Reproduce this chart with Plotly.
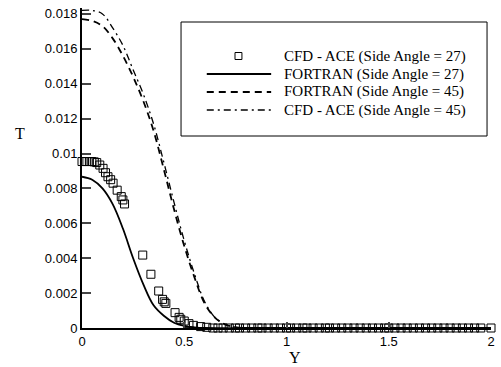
import plotly.graph_objects as go

# ---- data ----
cfd27_y = [0, 0.012, 0.024, 0.036, 0.048, 0.06, 0.072, 0.087, 0.103, 0.115, 0.127, 0.14,
           0.152, 0.172, 0.192, 0.2, 0.208, 0.297, 0.337, 0.375, 0.394, 0.402, 0.41, 0.455,
           0.475, 0.483, 0.5, 0.523, 0.545, 0.58, 0.61, 0.64, 0.665, 0.69, 0.72, 0.75, 0.77,
           0.8, 0.83, 0.86, 0.88, 0.91, 0.94, 0.97, 1.0, 1.02, 1.05, 1.08, 1.1, 1.13, 1.16,
           1.19, 1.21, 1.24, 1.27, 1.3, 1.33, 1.36, 1.39, 1.42, 1.45, 1.48, 1.5, 1.53, 1.56,
           1.59, 1.62, 1.65, 1.68, 1.71, 1.74, 1.77, 1.8, 1.83, 1.86, 1.89, 1.92, 1.95, 2.0]
cfd27_t = [0.00954, 0.00954, 0.00954, 0.00954, 0.00954, 0.00952, 0.00948, 0.00934, 0.00915,
           0.0089, 0.00867, 0.0085, 0.0083, 0.0079, 0.00753, 0.00734, 0.00711, 0.00418,
           0.00308, 0.00212, 0.00164, 0.0015, 0.00141, 0.00088, 0.00061, 0.0005, 0.0004,
           0.00025, 0.00015, 0.00008, 0.00004, 0, 0, 0, 0, 0, 0, 0, 0, 0, 0, 0, 0, 0, 0, 0,
           0, 0, 0, 0, 0, 0, 0, 0, 0, 0, 0, 0, 0, 0, 0, 0, 0, 0, 0, 0, 0, 0, 0, 0, 0, 0, 0,
           0, 0, 0, 0, 0, 0]

fortran27_y = [0, 0.05, 0.1, 0.15, 0.2, 0.25, 0.3, 0.35, 0.4, 0.45, 0.5, 0.55, 0.6, 0.8, 1.0, 1.5, 2.0]
fortran27_t = [0.00867, 0.0085, 0.0080, 0.0071, 0.0057, 0.0040, 0.0025, 0.0013, 0.0007,
               0.0003, 0.00012, 0.00004, 0, 0, 0, 0, 0]

curve45_y = [0, 0.05, 0.1, 0.15, 0.2, 0.25, 0.3, 0.35, 0.4, 0.45, 0.5, 0.55, 0.6, 0.65,
             0.7, 0.75, 0.8, 1.0, 1.5, 2.0]
fortran45_t = [0.0177, 0.0176, 0.0173, 0.0166, 0.0156, 0.0144, 0.0130, 0.0113, 0.0091,
               0.0068, 0.0047, 0.0029, 0.0014, 0.0006, 0.0002, 0.00005, 0, 0, 0, 0]
cfd45_t = [0.0182, 0.0182, 0.0180, 0.0172, 0.0162, 0.0148, 0.0134, 0.0117, 0.0095,
           0.0072, 0.0050, 0.0031, 0.0015, 0.0006, 0.0002, 0.00005, 0, 0, 0, 0]

x_ticks = [0, 0.5, 1, 1.5, 2]
x_labels = ["0", "0.5", "1", "1.5", "2"]
y_ticks = [0, 0.002, 0.004, 0.006, 0.008, 0.01, 0.012, 0.014, 0.016, 0.018]
y_labels = ["0", "0.002", "0.004", "0.006", "0.008", "0.01", "0.012", "0.014", "0.016", "0.018"]

legend_names = ["CFD - ACE (Side Angle = 27)", "FORTRAN (Side Angle = 27)",
                "FORTRAN (Side Angle = 45)", "CFD - ACE (Side Angle = 45)"]

DASH = "7px,5px"
DASHDOT = "7px,4px,2px,4px"

fig = go.Figure()
fig.add_trace(go.Scatter(x=fortran27_y, y=fortran27_t, mode="lines", line=dict(color="black", width=1.8, shape="spline"), showlegend=False))
fig.add_trace(go.Scatter(x=curve45_y, y=fortran45_t, mode="lines", line=dict(color="black", width=1.8, dash=DASH, shape="spline"), showlegend=False))
fig.add_trace(go.Scatter(x=curve45_y, y=cfd45_t, mode="lines", line=dict(color="black", width=1.3, dash=DASHDOT, shape="spline"), showlegend=False))
fig.add_trace(go.Scatter(x=cfd27_y, y=cfd27_t, mode="markers", cliponaxis=False,
                         marker=dict(symbol="square-open", size=8, color="black", line=dict(width=1)), showlegend=False))

# manual legend (paper coordinates)
PL, PW, PB, PH = 82, 413, 328, 320
def px(xp):
    return (xp - PL) / PW
def py(yp):
    return (PB - yp) / PH

shapes = [dict(type="rect", xref="paper", yref="paper", x0=px(182), x1=px(491), y0=py(136), y1=py(22),
               line=dict(color="black", width=1), fillcolor="white", layer="below")]
rows = [56, 74, 92, 110]
shapes.append(dict(type="rect", xref="paper", yref="paper", x0=px(236.5), x1=px(243.5), y0=py(rows[0] + 3.5), y1=py(rows[0] - 3.5),
                   line=dict(color="black", width=1)))
for r, d, w in [(rows[1], "solid", 1.8), (rows[2], DASH, 1.8), (rows[3], DASHDOT, 1.3)]:
    shapes.append(dict(type="line", xref="paper", yref="paper", x0=px(208), x1=px(273), y0=py(r), y1=py(r),
                       line=dict(color="black", width=w, dash=d)))

annotations = []
for r, name in zip(rows, legend_names):
    annotations.append(dict(text=name, xref="paper", yref="paper", x=px(284), y=py(r), xanchor="left", yanchor="middle",
                            showarrow=False, font=dict(family="Liberation Serif", size=15, color="black")))
annotations.append(dict(text="T", xref="paper", yref="paper", x=px(19), y=py(133), xanchor="center", yanchor="middle",
                        showarrow=False, font=dict(family="Liberation Serif", size=16, color="black")))
annotations.append(dict(text="Y", xref="paper", yref="paper", x=px(297), y=py(357), xanchor="center", yanchor="middle",
                        showarrow=False, font=dict(family="Liberation Serif", size=16, color="black")))

fig.update_layout(
    width=501, height=367,
    margin=dict(l=82, r=6, t=8, b=39),
    paper_bgcolor="white", plot_bgcolor="white",
    shapes=shapes, annotations=annotations,
    xaxis=dict(range=[0, 2], tickvals=x_ticks, ticktext=x_labels, ticks="inside", ticklen=6, tickwidth=1.5,
               showline=True, linewidth=2, linecolor="black", showgrid=False, zeroline=False,
               tickfont=dict(family="Liberation Sans", size=13, color="black")),
    yaxis=dict(range=[0, 0.01834], tickvals=y_ticks, ticktext=y_labels, ticks="inside", ticklen=9, tickwidth=2,
               showline=True, linewidth=2, linecolor="black", showgrid=False, zeroline=False,
               tickfont=dict(family="Liberation Sans", size=13, color="black")),
)

fig.write_html("out.html")
